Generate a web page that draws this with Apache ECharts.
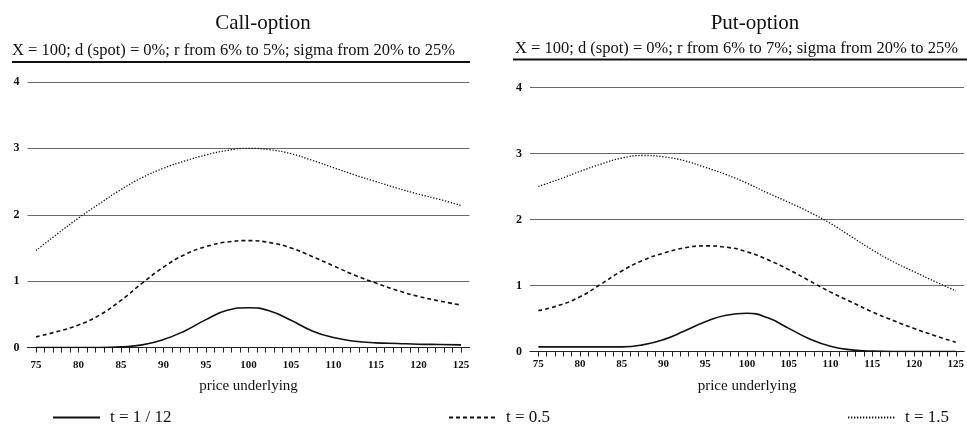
<!DOCTYPE html>
<html>
<head>
<meta charset="utf-8">
<script src="https://cdn.jsdelivr.net/npm/echarts@6/dist/echarts.min.js"></script>
<style>
html,body{margin:0;padding:0;background:#fff;}
#chart{width:967px;height:429px;}
</style>
</head>
<body>
<div id="chart"></div>
<script>
// ---- data ----
var priceUnderlying = [75, 77.5, 80, 82.5, 85, 87.5, 90, 92.5, 95, 97.5, 100, 102.5, 105, 107.5, 110, 112.5, 115, 117.5, 120, 122.5, 125];
var seriesNames = ['t = 1 / 12', 't = 0.5', 't = 1.5'];
var callShort = [0, 0, 0, 0, 0.01, 0.04, 0.12, 0.25, 0.42, 0.56, 0.60, 0.55, 0.41, 0.25, 0.15, 0.095, 0.07, 0.06, 0.05, 0.045, 0.04];
var callMid   = [0.16, 0.24, 0.34, 0.49, 0.71, 0.97, 1.21, 1.40, 1.52, 1.59, 1.61, 1.58, 1.50, 1.37, 1.23, 1.09, 0.97, 0.86, 0.77, 0.70, 0.64];
var callLong  = [1.46, 1.71, 1.95, 2.17, 2.38, 2.56, 2.70, 2.81, 2.90, 2.97, 3.00, 2.98, 2.92, 2.82, 2.71, 2.60, 2.50, 2.40, 2.31, 2.23, 2.14];
var putShort  = [0.07, 0.07, 0.07, 0.07, 0.07, 0.10, 0.18, 0.31, 0.45, 0.55, 0.58, 0.51, 0.35, 0.19, 0.08, 0.025, 0.005, 0, 0, 0, 0];
var putMid    = [0.62, 0.70, 0.83, 1.02, 1.22, 1.38, 1.49, 1.57, 1.60, 1.58, 1.51, 1.39, 1.24, 1.07, 0.90, 0.75, 0.60, 0.47, 0.35, 0.24, 0.14];
var putLong   = [2.50, 2.61, 2.73, 2.84, 2.93, 2.97, 2.95, 2.89, 2.79, 2.68, 2.55, 2.40, 2.26, 2.11, 1.94, 1.74, 1.54, 1.36, 1.21, 1.06, 0.92];
var xTickLabels = [75, 80, 85, 90, 95, 100, 105, 110, 115, 120, 125];
var xTickMarks = [];
for (var v = 75; v <= 125; v++) xTickMarks.push(v);
var yTickLabels = [0, 1, 2, 3, 4];
var titles = ['Call-option', 'Put-option'];
var subtitles = ['X = 100; d (spot) = 0%; r from 6% to 5%; sigma from 20% to 25%',
                 'X = 100; d (spot) = 0%; r from 6% to 7%; sigma from 20% to 25%'];
var xName = 'price underlying';

// ---- chart ----
var FONT = '"Liberation Serif", "DejaVu Serif", serif';
var INK = '#111';
function pairs(ys) { return priceUnderlying.map(function (x, i) { return [x, ys[i]]; }); }

var lineStyles = [
  { color: INK, width: 1.6, type: 'solid' },
  { color: INK, width: 1.6, type: [4, 3] },
  { color: INK, width: 1.3, type: [1.3, 1.7] }
];

function xAxisDef(gi, labelMargin, nameGap) {
  return {
    type: 'value', gridIndex: gi, min: 74, max: 126,
    name: xName, nameLocation: 'middle', nameGap: nameGap,
    nameTextStyle: { fontFamily: FONT, fontSize: 15, color: INK },
    axisLine: { show: true, lineStyle: { color: '#222', width: 1.2 } },
    axisTick: { show: true, customValues: xTickMarks, length: 5, inside: false, lineStyle: { color: '#222', width: 1 } },
    axisLabel: { customValues: xTickLabels, margin: labelMargin, fontFamily: FONT, fontSize: 11, fontWeight: 'bold', color: INK },
    splitLine: { show: false }
  };
}
function yAxisDef(gi) {
  return {
    type: 'value', gridIndex: gi, min: 0, max: 4, interval: 1,
    axisLine: { show: false }, axisTick: { show: false },
    axisLabel: { margin: 8, fontFamily: FONT, fontSize: 12, fontWeight: 'bold', color: INK,
      formatter: function (val) { return yTickLabels.indexOf(val) >= 0 ? String(val) : ''; } },
    splitLine: { show: true, lineStyle: { color: '#6a6a6a', width: 1 } }
  };
}

var series = [];
[[callShort, callMid, callLong], [putShort, putMid, putLong]].forEach(function (set, gi) {
  set.forEach(function (ys, k) {
    series.push({
      name: seriesNames[k], type: 'line', xAxisIndex: gi, yAxisIndex: gi,
      data: pairs(ys), smooth: 0.5, symbol: 'none', showSymbol: false,
      lineStyle: lineStyles[k], itemStyle: { color: INK }, animation: false, z: 3
    });
  });
});

function legendDef(name, left) {
  return {
    data: [name], left: left, top: 409, padding: 0, itemWidth: 47, itemHeight: 14,
    selectedMode: false,
    itemStyle: { opacity: 0 },
    textStyle: { fontFamily: FONT, fontSize: 17, color: INK, padding: [0, 0, 0, 5] }
  };
}

var titleFont = { fontFamily: FONT, fontSize: 21, fontWeight: 'normal', color: INK };
var subFont = { fontFamily: FONT, fontSize: 16.5, fontWeight: 'normal', color: INK };

var option = {
  backgroundColor: '#fff',
  animation: false,
  title: [
    { text: titles[0], left: 263, top: 13, padding: 0, textAlign: 'center', textStyle: titleFont },
    { text: titles[1], left: 755, top: 13, padding: 0, textAlign: 'center', textStyle: titleFont },
    { text: subtitles[0], left: 12, top: 42, padding: 0, textStyle: subFont },
    { text: subtitles[1], left: 515, top: 40, padding: 0, textStyle: subFont }
  ],
  graphic: [
    { type: 'line', shape: { x1: 12, y1: 62, x2: 470, y2: 62 }, style: { stroke: '#111', lineWidth: 1.8 } },
    { type: 'line', shape: { x1: 513, y1: 59.5, x2: 967, y2: 59.5 }, style: { stroke: '#111', lineWidth: 1.8 } }
  ],
  grid: [
    { left: 27.5, width: 442, top: 82, height: 265.5 },
    { left: 530, width: 438, top: 87.5, height: 264 }
  ],
  xAxis: [xAxisDef(0, 12, 31), xAxisDef(1, 7, 27)],
  yAxis: [yAxisDef(0), yAxisDef(1)],
  legend: [legendDef(seriesNames[0], 52), legendDef(seriesNames[1], 448), legendDef(seriesNames[2], 847)],
  series: series
};

var chart = echarts.init(document.getElementById('chart'), null, { renderer: 'canvas' });
chart.setOption(option);
</script>
</body>
</html>
